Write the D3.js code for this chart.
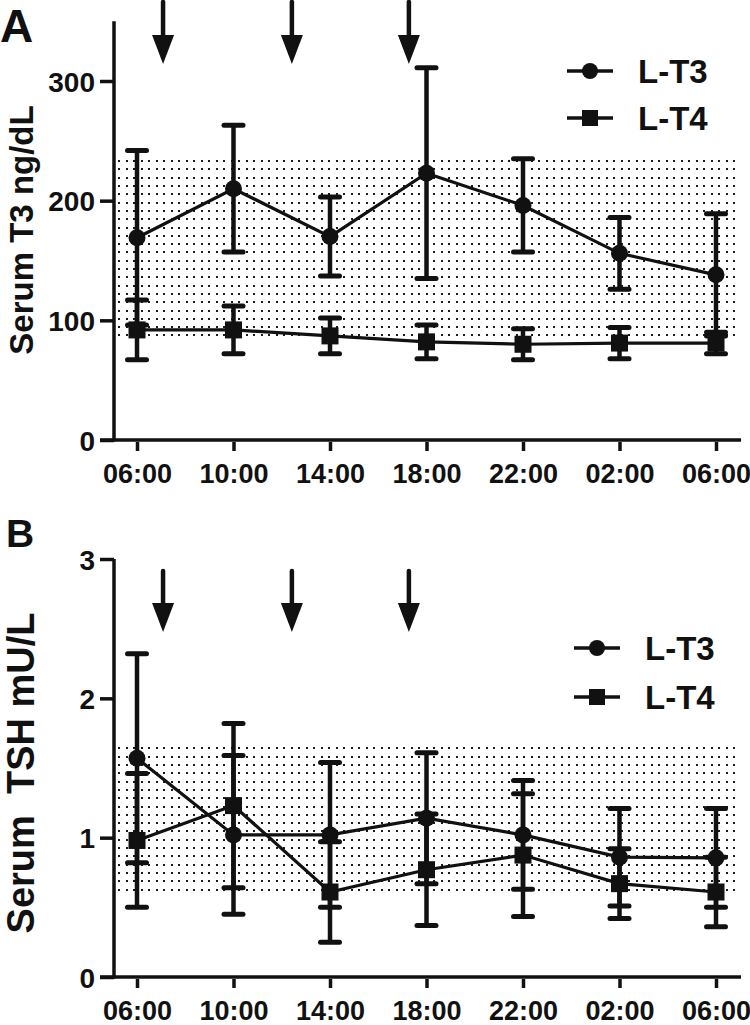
<!DOCTYPE html>
<html><head><meta charset="utf-8">
<script src="https://cdn.jsdelivr.net/npm/d3@7"></script>
<style>body{margin:0;background:#fff}svg{display:block}text{font-family:"Liberation Sans",Arial,sans-serif;font-weight:bold;fill:#111}</style>
</head><body>
<svg id="c" width="750" height="1025"></svg>
<script>
// ---- data ----
const timeLabels = ["06:00","10:00","14:00","18:00","22:00","02:00","06:00"];
const timeHours  = [6,10,14,18,22,26,30];
const arrowHours = [7.08,12.42,17.27];
const seriesNames = ["L-T3","L-T4"];

const t3MeanA = [169,210,170,223,196,156,138];
const t3ErrA  = [73,53,33,88,39,30,51];
const t4MeanA = [92,92,87,82,80,81,81];
const t4ErrA  = [25,20,15,14,13,13,9];
const refRangeA = [86,233];
const yTicksA = [0,100,200,300];

const t3MeanB = [1.57,1.02,1.02,1.14,1.02,0.86,0.855];
const t3ErrB  = [0.75,0.57,0.52,0.47,0.39,0.35,0.355];
const t4MeanB = [0.98,1.23,0.61,0.77,0.875,0.67,0.61];
const t4ErrB  = [0.48,0.59,0.36,0.40,0.44,0.25,0.25];
const refRangeB = [0.61,1.64];
const yTicksB = [0,1,2,3];

const svg = d3.select("#c");
const ink = "#111";
const FONT = "'Liberation Sans',Arial,sans-serif";

const x = d3.scaleLinear().domain([6,30]).range([137,716]);

function styleText(sel, size){
  sel.style("font-family",FONT).style("font-weight","bold").style("font-size",size+"px").attr("fill",ink);
}

function panel(cfg){
  const g = svg.append("g");
  const y = d3.scaleLinear().domain(cfg.domain).range([cfg.y0, cfg.y1]);

  // dotted reference band (crisp dots)
  const top = y(cfg.ref[1]), bot = y(cfg.ref[0]);
  const rows = d3.range(top, bot + 0.5, 8.3).map(Math.round);
  const cols = d3.range(118, 739, 7.5).map(Math.round);
  const band = g.append("g").attr("fill","#1a1a1a").attr("shape-rendering","crispEdges");
  rows.forEach(ry => cols.forEach(cx => band.append("rect").attr("x",cx).attr("y",ry-1).attr("width",2).attr("height",2)));

  // y axis
  const ya = g.append("g").attr("transform","translate(114,0)")
    .call(d3.axisLeft(y).tickValues(cfg.yTicks).tickFormat(d3.format("d")).tickSize(14).tickSizeOuter(0).tickPadding(5));
  ya.select(".domain").attr("stroke",ink).attr("stroke-width",3.5)
    .attr("d",`M0,${cfg.y0+1.5}V${y(cfg.domain[1])}`);
  ya.selectAll(".tick line").attr("stroke",ink).attr("stroke-width",3.5);
  styleText(ya.selectAll(".tick text").attr("dy","0.36em"), 28);

  // x axis
  const xa = g.append("g").attr("transform",`translate(0,${cfg.y0})`)
    .call(d3.axisBottom(x).tickValues(timeHours).tickFormat((d,i)=>timeLabels[i]).tickSize(11).tickSizeOuter(0).tickPadding(13));
  xa.select(".domain").attr("d","M100,0H741").attr("stroke",ink).attr("stroke-width",3.5);
  xa.selectAll(".tick line").attr("stroke",ink).attr("stroke-width",3.5).attr("y1",2);
  styleText(xa.selectAll(".tick text"), 27);

  // arrows
  arrowHours.forEach(h=>{
    const ax = x(h);
    g.append("line").attr("x1",ax).attr("x2",ax).attr("y1",cfg.arrowTop).attr("y2",cfg.arrowHead+4)
      .attr("stroke",ink).attr("stroke-width",4.5).attr("stroke-linecap","round");
    g.append("path").attr("d",`M${ax-11},${cfg.arrowHead}L${ax+11},${cfg.arrowHead}L${ax},${cfg.arrowHead+29}Z`).attr("fill",ink);
  });

  const series = [
    {m:cfg.t3m, e:cfg.t3e, shape:"circle"},
    {m:cfg.t4m, e:cfg.t4e, shape:"square"}
  ];
  series.forEach(s=>{
    const eb = g.append("g");
    s.m.forEach((m,i)=>{
      const cx = x(timeHours[i]);
      const hi = y(m + s.e[i]), lo = y(m - s.e[i]);
      eb.append("line").attr("x1",cx).attr("x2",cx).attr("y1",hi).attr("y2",lo).attr("stroke",ink).attr("stroke-width",4.5);
      [hi,lo].forEach(yy=> eb.append("line").attr("x1",cx-9.5).attr("x2",cx+9.5).attr("y1",yy).attr("y2",yy)
        .attr("stroke",ink).attr("stroke-width",5).attr("stroke-linecap","round"));
    });
  });
  series.forEach(s=>{
    g.append("path").datum(s.m).attr("fill","none").attr("stroke",ink).attr("stroke-width",3.2)
      .attr("d", d3.line().x((d,i)=>x(timeHours[i])).y(d=>y(d)));
  });
  series.forEach(s=>{
    s.m.forEach((m,i)=>{
      const cx = x(timeHours[i]), cy = y(m);
      if(s.shape==="circle") g.append("circle").attr("cx",cx).attr("cy",cy).attr("r",8.5).attr("fill",ink);
      else g.append("rect").attr("x",cx-8.5).attr("y",cy-8.5).attr("width",17).attr("height",17).attr("fill",ink);
    });
  });

  // legend
  seriesNames.forEach((nm,i)=>{
    const ly = cfg.legY[i];
    g.append("line").attr("x1",cfg.legX).attr("x2",cfg.legX+46).attr("y1",ly).attr("y2",ly).attr("stroke",ink).attr("stroke-width",3.5);
    const mx = cfg.legX+23;
    if(i===0) g.append("circle").attr("cx",mx).attr("cy",ly).attr("r",8).attr("fill",ink);
    else g.append("rect").attr("x",mx-8).attr("y",ly-8).attr("width",16).attr("height",16).attr("fill",ink);
    styleText(g.append("text").attr("x",cfg.legX+71).attr("y",ly+12).text(nm), 33);
  });

  styleText(g.append("text").attr("transform",`translate(${cfg.titleX},${cfg.titleY}) rotate(-90)`)
    .attr("text-anchor","middle").style("white-space","pre").text(cfg.title), cfg.titleSize);
  styleText(g.append("text").attr("x",cfg.letterX).attr("y",cfg.letterY).text(cfg.letter), cfg.letterSize);
}

panel({domain:[0,350], y0:440, y1:440-350*359/300, ref:refRangeA, yTicks:yTicksA,
  t3m:t3MeanA, t3e:t3ErrA, t4m:t4MeanA, t4e:t4ErrA,
  arrowTop:2, arrowHead:35, legX:567, legY:[71,118],
  title:"Serum T3 ng/dL", titleX:33, titleY:230, titleSize:33,
  letter:"A", letterX:0, letterY:42, letterSize:46});

panel({domain:[0,3], y0:977, y1:559, ref:refRangeB, yTicks:yTicksB,
  t3m:t3MeanB, t3e:t3ErrB, t4m:t4MeanB, t4e:t4ErrB,
  arrowTop:571, arrowHead:603, legX:574, legY:[648,697],
  title:"Serum  TSH mU/L", titleX:34, titleY:773, titleSize:38,
  letter:"B", letterX:6, letterY:547, letterSize:39});
</script>
</body></html>
